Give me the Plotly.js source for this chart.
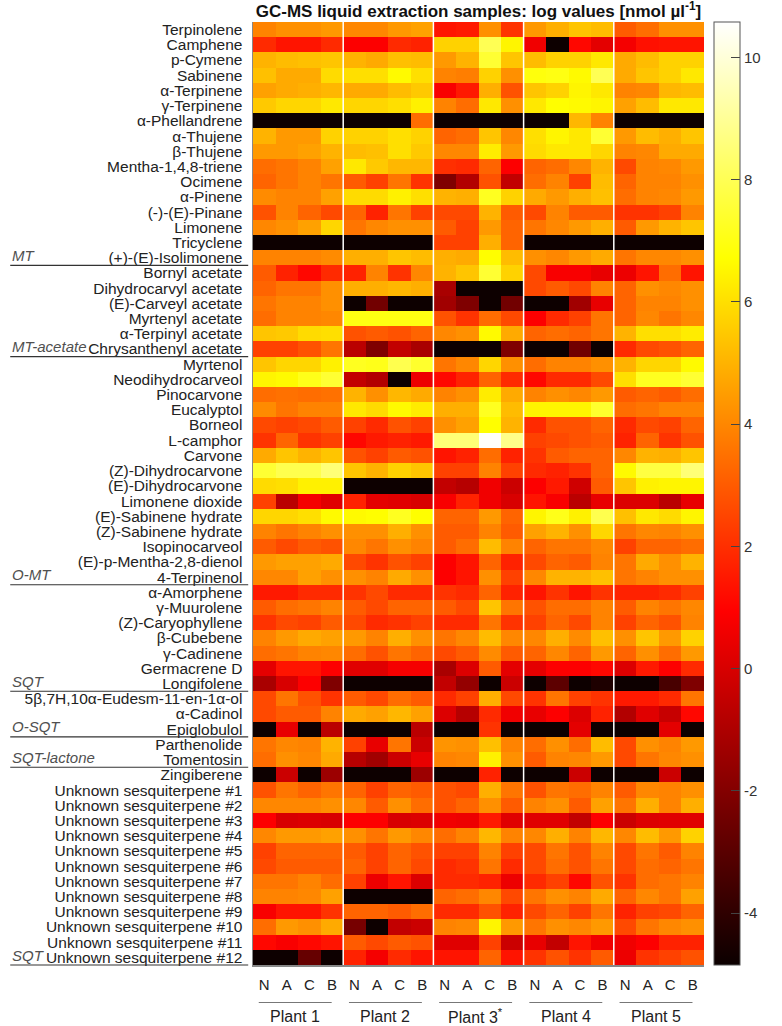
<!DOCTYPE html>
<html>
<head>
<meta charset="utf-8">
<script src="https://cdn.plot.ly/plotly-3.0.1.min.js"></script>
<style>html,body{margin:0;padding:0;background:#fff;}#chart{width:782px;height:1026px;}</style>
</head>
<body>
<div id="chart"></div>
<script>
const rowLabels = ["Terpinolene","Camphene","p-Cymene","Sabinene","α-Terpinene","γ-Terpinene","α-Phellandrene","α-Thujene","β-Thujene","Mentha-1,4,8-triene","Ocimene","α-Pinene","(-)-(E)-Pinane","Limonene","Tricyclene","(+)-(E)-Isolimonene","Bornyl acetate","Dihydrocarvyl acetate","(E)-Carveyl acetate","Myrtenyl acetate","α-Terpinyl acetate","Chrysanthenyl acetate","Myrtenol","Neodihydrocarveol","Pinocarvone","Eucalyptol","Borneol","L-camphor","Carvone","(Z)-Dihydrocarvone","(E)-Dihydrocarvone","Limonene dioxide","(E)-Sabinene hydrate","(Z)-Sabinene hydrate","Isopinocarveol","(E)-p-Mentha-2,8-dienol","4-Terpinenol","α-Amorphene","γ-Muurolene","(Z)-Caryophyllene","β-Cubebene","γ-Cadinene","Germacrene D","Longifolene","5β,7H,10α-Eudesm-11-en-1α-ol","α-Cadinol","Epiglobulol","Parthenolide","Tomentosin","Zingiberene","Unknown sesquiterpene #1","Unknown sesquiterpene #2","Unknown sesquiterpene #3","Unknown sesquiterpene #4","Unknown sesquiterpene #5","Unknown sesquiterpene #6","Unknown sesquiterpene #7","Unknown sesquiterpene #8","Unknown sesquiterpene #9","Unknown sesquiterpene #10","Unknown sesquiterpene #11","Unknown sesquiterpene #12"];
const sampleLabels = ["N","A","C","B"];
const plantNames = ["Plant 1","Plant 2","Plant 3<sup>*</sup>","Plant 4","Plant 5"];
const groupNames = ["MT","MT-acetate","O-MT","SQT","O-SQT","SQT-lactone","SQT"];
const groupLastRow = ["(+)-(E)-Isolimonene","Chrysanthenyl acetate","4-Terpinenol","Longifolene","Epiglobulol","Tomentosin","Unknown sesquiterpene #12"];
const colorbarTicks = [-4,-2,0,2,4,6,8,10];

const plant1 = [
[3.9,4.2,4.2,4.4],[1.9,1.4,1.4,1.9],[5.0,5.2,5.3,5.4],[5.3,4.8,4.8,5.9],[4.6,4.8,4.9,5.1],
[5.5,5.8,5.8,6.2],[-4.8,-4.8,-4.8,-4.8],[5.0,4.4,4.4,5.7],[4.4,4.4,4.6,5.0],[3.4,3.6,3.9,4.6],
[3.2,3.6,3.9,3.6],[4.1,3.9,3.9,4.6],[2.8,3.9,3.2,2.6],[4.0,4.2,4.6,5.8],[-4.8,-4.8,-4.8,-4.8],
[3.9,3.9,3.9,4.1],[3.0,1.7,1.1,1.9],[3.2,3.6,3.6,4.2],[3.6,3.9,3.9,4.2],[3.4,3.9,3.9,4.0],
[5.4,5.5,5.9,6.0],[2.4,2.4,2.8,3.6],[5.4,5.8,5.8,6.4],[6.5,6.6,7.1,7.5],[3.4,3.5,3.4,3.5],
[4.1,3.6,3.9,3.9],[2.6,2.4,2.6,3.0],[2.1,3.2,2.1,2.4],[4.8,5.4,5.0,5.4],[7.5,7.9,7.9,8.5],
[5.9,6.0,6.4,6.4],[2.4,-0.7,0.7,0.2],[5.8,5.8,6.0,6.6],[3.9,3.6,3.9,4.2],[3.0,2.6,3.0,2.8],
[4.4,4.6,4.6,4.8],[4.0,4.0,4.6,4.2],[1.5,1.5,1.9,1.9],[3.0,3.4,3.6,3.9],[2.1,2.6,2.4,3.0],
[3.9,4.4,4.8,4.6],[3.4,3.6,3.9,4.0],[0.3,1.4,1.4,0.9],[-1.1,0.0,0.9,-2.1],[2.6,3.6,2.8,2.1],
[2.6,3.0,3.0,3.9],[-4.8,0.4,-4.8,-0.7],[3.6,4.0,3.9,5.0],[3.4,4.2,4.0,4.8],[-4.8,-0.3,-4.8,-1.4],
[2.8,3.6,3.2,3.6],[4.0,4.0,4.0,4.2],[0.9,0.0,0.1,0.0],[4.0,4.4,4.4,4.6],[2.4,3.2,3.2,3.2],
[2.6,3.0,3.0,3.0],[3.6,3.6,3.9,3.4],[3.9,3.9,4.0,4.6],[0.8,1.4,1.4,2.1],[3.4,4.4,4.2,4.8],
[1.1,0.8,1.1,1.4],[-4.8,-4.8,-2.7,-4.8]
];
const plant2 = [
[4.0,4.0,4.4,4.6],[0.9,0.9,1.9,1.7],[5.0,4.8,5.3,5.2],[6.0,6.0,6.6,6.0],[4.8,4.8,5.2,5.5],
[5.8,5.8,6.0,6.4],[-4.8,-4.8,-4.8,3.4],[5.7,5.7,6.0,5.7],[5.2,5.3,6.0,5.5],[6.2,5.5,5.1,5.1],
[3.0,2.4,3.6,2.1],[5.9,5.9,6.4,6.0],[3.2,1.7,3.6,2.4],[3.6,4.0,4.2,4.2],[-4.8,-4.8,-4.8,-4.8],
[4.9,4.9,5.4,5.2],[1.7,3.9,2.1,4.0],[4.9,4.9,5.1,4.9],[-4.8,-2.4,-4.8,-4.8],[7.0,7.0,7.0,7.0],
[2.8,3.0,2.8,3.2],[-0.7,-2.1,-0.5,-1.1],[7.2,7.1,7.9,7.4],[-0.5,-0.9,-4.8,0.5],[5.0,4.2,5.1,4.8],
[6.2,5.9,6.6,6.3],[2.4,1.9,2.8,2.4],[1.1,1.5,1.7,1.5],[2.8,2.4,3.0,2.8],[5.4,5.0,5.7,5.4],
[-4.8,-4.8,-4.8,-4.8],[1.7,0.3,0.2,0.0],[6.6,6.7,7.2,6.7],[4.2,4.2,4.9,4.2],[4.0,3.6,4.2,3.9],
[2.6,2.1,2.8,2.4],[4.2,3.9,4.8,4.2],[2.1,2.6,1.9,1.9],[3.0,2.6,3.2,3.2],[2.6,1.9,2.1,2.4],
[4.4,3.9,4.9,4.2],[3.4,2.8,3.6,3.2],[0.2,0.2,0.7,0.7],[-4.8,-4.8,-4.8,-4.8],[3.0,2.6,3.4,3.0],
[4.8,4.6,5.1,4.6],[-4.8,-4.8,-4.8,-0.7],[2.4,0.4,3.6,-0.3],[-0.8,-1.3,-0.3,0.4],[-4.8,-4.8,-4.8,-1.4],
[3.2,2.4,3.2,3.0],[4.0,3.0,4.2,3.4],[0.9,0.9,0.0,0.1],[4.2,3.6,4.4,4.0],[3.0,2.4,3.2,2.8],
[3.2,2.4,3.2,2.6],[2.4,0.5,1.4,0.1],[-4.8,-4.8,-4.8,-4.8],[3.2,3.2,3.0,3.4],[-2.3,-4.8,-0.5,-0.3],
[3.0,2.6,3.0,2.8],[1.7,0.7,1.9,1.4]
];
const plant3 = [
[1.4,1.5,4.2,2.1],[5.7,5.7,8.0,6.5],[4.4,5.0,7.5,5.4],[3.9,3.8,5.7,4.2],[0.8,1.5,4.9,2.8],
[3.9,3.4,6.2,4.2],[-4.8,-4.8,-4.8,-4.8],[3.2,3.4,5.4,4.0],[4.0,4.0,6.3,4.4],[2.0,1.9,3.2,0.9],
[-2.1,-0.9,2.8,-0.5],[5.0,4.9,7.2,5.7],[2.6,2.6,5.0,3.0],[3.0,2.4,4.4,3.2],[2.4,2.4,4.9,3.2],
[4.9,4.8,6.7,5.2],[5.0,5.4,7.5,5.7],[-1.1,-4.8,-4.8,-4.8],[-1.3,-2.1,-4.8,-2.4],[2.8,2.1,3.4,2.6],
[4.0,4.2,6.6,4.8],[-4.8,-4.8,-4.8,-2.1],[3.6,4.0,5.8,4.2],[1.1,1.7,3.2,1.9],[3.9,4.2,6.3,4.8],
[4.9,4.9,7.2,5.2],[4.2,4.6,6.7,5.0],[8.5,8.5,10.5,8.8],[1.4,1.7,3.4,1.7],[2.4,2.4,3.9,2.4],
[-0.5,-0.8,0.6,-0.3],[0.8,1.7,0.6,0.0],[3.2,3.2,4.4,3.2],[3.0,3.0,3.9,3.0],[3.0,3.4,5.2,3.9],
[0.9,1.4,3.2,1.7],[0.9,1.4,4.2,2.4],[2.1,1.9,3.2,1.7],[3.0,2.6,5.4,3.6],[1.9,1.9,3.6,2.1],
[3.6,4.0,5.2,4.0],[2.6,3.0,4.1,3.0],[-1.1,0.1,3.0,0.3],[-0.5,-1.6,-4.8,-0.3],[1.9,2.4,4.9,2.6],
[0.1,-0.8,1.9,0.6],[-4.8,-4.8,2.1,-4.8],[4.3,4.2,5.3,3.9],[3.9,4.0,6.4,4.2],[-4.8,-4.8,1.7,-4.8],
[2.8,2.6,4.9,3.6],[2.8,3.2,4.2,3.0],[0.6,0.5,1.5,0.2],[3.4,3.9,5.1,3.9],[2.4,2.4,3.9,2.4],
[1.9,2.1,3.6,1.9],[1.9,1.9,1.7,0.5],[3.2,3.4,4.0,2.6],[1.9,1.9,2.8,1.7],[3.9,4.0,6.5,4.4],
[0.2,0.2,2.4,-0.3],[1.4,1.4,3.2,1.4]
];
const plant4 = [
[4.4,4.9,5.4,5.2],[0.6,-4.8,1.1,0.3],[5.2,5.7,5.7,6.2],[6.9,7.0,6.6,8.0],[5.4,5.7,6.5,6.2],
[6.2,6.7,6.6,6.5],[-4.8,-4.8,5.1,3.9],[6.0,6.5,6.2,7.5],[5.9,6.2,6.2,5.8],[3.2,3.4,4.0,5.0],
[3.4,3.9,2.4,5.2],[4.8,4.4,4.9,5.3],[2.6,3.9,3.0,3.0],[3.6,4.0,4.4,4.9],[-4.8,-4.8,-4.8,-4.8],
[4.2,4.0,4.4,4.8],[2.6,0.8,0.8,0.4],[2.6,3.0,2.6,3.9],[-4.8,-4.8,-1.3,0.4],[0.9,1.9,2.4,3.6],
[3.2,3.4,3.2,3.6],[-4.8,-4.8,-2.4,-4.8],[3.4,3.9,3.9,4.2],[1.1,1.9,1.9,2.6],[3.9,4.2,4.0,4.4],
[6.5,6.5,6.5,7.4],[1.9,2.8,2.8,3.2],[2.4,2.6,2.8,3.0],[2.1,3.0,3.2,3.2],[1.9,1.7,2.1,3.2],
[0.9,1.5,-0.2,3.0],[1.4,0.8,-0.7,0.4],[6.5,7.1,6.4,7.9],[4.6,5.0,4.2,5.8],[3.2,3.6,3.6,4.0],
[2.6,3.2,3.0,3.9],[4.0,5.0,5.0,5.3],[1.4,2.1,1.4,2.1],[2.8,3.4,3.4,3.9],[2.4,3.2,2.6,3.9],
[4.0,4.9,4.1,5.3],[3.2,4.0,3.2,4.4],[0.3,0.9,0.9,1.1],[-4.8,-2.9,-4.8,-4.4],[2.1,3.6,2.4,2.1],
[0.4,0.9,0.1,1.7],[-4.8,-4.8,0.3,-4.8],[3.4,4.2,3.4,5.2],[3.0,3.9,4.0,4.4],[-4.8,-4.8,-0.3,-4.8],
[2.8,3.6,3.4,3.9],[3.9,4.2,3.0,4.6],[0.2,0.2,-0.5,0.9],[4.0,4.9,3.9,5.1],[2.6,3.6,2.8,3.9],
[2.6,3.4,2.8,3.6],[1.9,2.4,1.1,2.8],[3.6,4.2,3.9,4.8],[2.6,3.2,2.4,3.6],[3.6,4.2,4.0,4.4],
[0.4,-0.5,1.4,0.6],[2.1,2.8,2.1,3.0]
];
const plant5 = [
[3.0,3.4,4.2,4.2],[0.7,1.3,1.4,1.4],[4.8,5.2,5.7,5.7],[4.8,5.4,5.7,6.2],[3.9,4.0,5.1,5.2],
[4.6,5.2,6.2,6.2],[-4.8,-4.8,-4.8,-4.8],[4.4,5.2,4.9,5.4],[3.9,4.0,4.8,4.8],[2.6,3.9,4.0,4.4],
[3.2,3.9,3.9,4.2],[3.4,3.9,4.0,4.4],[2.1,2.1,2.4,3.9],[3.0,4.4,5.0,5.4],[-4.8,-4.8,-4.8,-4.8],
[3.6,4.0,4.0,4.2],[0.5,1.4,3.4,1.4],[3.2,4.2,4.0,4.2],[3.2,3.9,3.9,4.2],[3.2,4.0,3.6,4.0],
[5.0,6.0,6.0,6.3],[1.9,2.6,2.8,3.2],[5.0,5.8,5.8,6.6],[6.0,7.2,7.2,7.5],[3.0,3.2,3.0,3.4],
[3.4,3.6,3.9,3.9],[1.9,2.6,2.4,3.2],[1.7,3.2,2.1,2.8],[4.0,5.0,4.9,5.4],[6.6,7.7,7.7,8.5],
[5.4,6.4,6.5,6.5],[0.1,0.1,-0.7,0.4],[5.3,6.2,5.9,6.5],[3.6,4.0,3.9,4.2],[2.4,3.2,3.2,3.4],
[3.6,4.8,4.2,5.0],[3.6,3.9,4.2,4.2],[1.7,1.7,1.9,2.4],[3.0,3.9,3.6,4.0],[2.4,3.2,2.8,3.9],
[4.2,5.4,4.4,5.7],[3.2,4.2,3.4,4.4],[0.1,1.5,0.9,1.9],[-4.8,-4.8,-3.4,-2.1],[1.5,1.5,1.9,3.6],
[-0.9,0.2,-0.4,1.1],[-4.8,-4.8,0.3,-4.8],[2.6,4.2,3.9,4.4],[2.6,3.6,4.0,4.2],[-4.8,-4.8,-0.3,-4.8],
[3.0,4.0,3.9,4.2],[3.6,4.9,3.9,4.9],[-0.3,0.1,0.2,0.2],[4.0,5.2,4.4,5.7],[2.6,3.6,3.0,3.9],
[2.6,3.4,3.2,3.6],[2.1,3.4,3.6,3.9],[3.2,4.0,3.6,4.6],[1.7,2.4,2.6,3.2],[2.6,3.6,4.0,4.2],
[0.6,0.9,1.7,1.7],[0.5,2.1,2.4,2.8]
];

const plants = [plant1, plant2, plant3, plant4, plant5];
const nRows = rowLabels.length;
const nCols = plants.length * sampleLabels.length;
const z = rowLabels.map((_, i) => [].concat(...plants.map(p => p[i])));
const xIdx = Array.from({length: nCols}, (_, i) => i);
const yIdx = Array.from({length: nRows}, (_, i) => i);
const xTickText = [].concat(...plants.map(() => sampleLabels));

// geometry (pixels)
const W = 782, H = 1026, ML = 253, MR = 59, MT = 22, MB = 61;
const PW = W - ML - MR, PH = H - MT - MB;
const FONT = 'Liberation Sans, Arial, Helvetica, sans-serif';

const shapes = [];
const annotations = [];
const perPlant = sampleLabels.length;
for (let g = 1; g < plants.length; g++) {
  shapes.push({type:'line', xref:'paper', yref:'paper', x0:g*perPlant/nCols, x1:g*perPlant/nCols, y0:0, y1:1,
    line:{color:'#ffffff', width:1.5}, layer:'above'});
}
const groupPx = PW / plants.length;
plants.forEach((p, g) => {
  shapes.push({type:'line', xref:'paper', yref:'paper',
    x0:(g*groupPx + 6)/PW, x1:((g+1)*groupPx - 12)/PW, y0:-37.5/PH, y1:-37.5/PH,
    line:{color:'#777777', width:1}});
  annotations.push({xref:'paper', yref:'paper', x:(g+0.5)/plants.length, y:0, yshift:-51, xshift:-3,
    xanchor:'center', yanchor:'middle', showarrow:false, text:plantNames[g],
    font:{family:FONT, size:16, color:'#222'}});
});
groupNames.forEach((name, k) => {
  const last = rowLabels.indexOf(groupLastRow[k]) + 1;
  const yp = 1 - last / nRows;
  shapes.push({type:'line', xref:'paper', yref:'paper', x0:-ML/PW, x1:-5/PW, y0:yp, y1:yp,
    line:{color:'#333333', width:1.2}});
  annotations.push({xref:'paper', yref:'paper', x:(1-ML)/PW, y:yp, yshift:10, xanchor:'left', yanchor:'middle',
    showarrow:false, borderpad:0, text:'<i>'+name+'</i>', font:{family:FONT, size:15, color:'#505050'}});
});

const trace = {
  type:'heatmap', z:z, x:xIdx, y:yIdx,
  zmin:-4.85, zmax:10.58,
  colorscale:[[0,'rgb(11,0,0)'],[0.375,'rgb(255,0,0)'],[0.75,'rgb(255,255,0)'],[1,'rgb(255,255,255)']],
  hoverinfo:'skip',
  colorbar:{
    x:(733-ML)/PW, xanchor:'left', xpad:0, ypad:0, y:0.5, yanchor:'middle',
    len:1, lenmode:'fraction', thickness:26, thicknessmode:'pixels',
    outlinewidth:1, outlinecolor:'#555',
    ticks:'inside', ticklen:9, tickwidth:1, tickcolor:'#444',
    tickvals:colorbarTicks, ticktext:colorbarTicks.map(String),
    tickfont:{family:FONT, size:15, color:'#333'}
  }
};

const layout = {
  width:W, height:H,
  margin:{l:ML, r:MR, t:MT, b:MB, pad:0},
  paper_bgcolor:'#ffffff', plot_bgcolor:'#ffffff',
  font:{family:FONT, color:'#222'},
  title:{text:'<b>GC-MS liquid extraction samples: log values [nmol µl<sup>-1</sup>]</b>',
    xref:'paper', x:0.5, xanchor:'center', yref:'container', y:1-11/H, yanchor:'middle',
    font:{family:FONT, size:17, color:'#111'}},
  xaxis:{range:[-0.5, nCols-0.5], tickvals:xIdx, ticktext:xTickText, ticks:'', showgrid:false, zeroline:false,
    showline:true, linecolor:'#888', linewidth:1.5, ticklabelstandoff:5,
    tickfont:{family:FONT, size:15, color:'#222'}, fixedrange:true},
  yaxis:{range:[nRows-0.5, -0.5], tickvals:yIdx, ticktext:rowLabels, ticks:'', showgrid:false, zeroline:false,
    showline:true, linecolor:'#888', linewidth:1.5, ticklabelstandoff:6,
    tickfont:{family:FONT, size:15.5, color:'#222'}, fixedrange:true},
  shapes:shapes, annotations:annotations
};

Plotly.newPlot('chart', [trace], layout, {staticPlot:true, displayModeBar:false});
</script>
</body>
</html>
